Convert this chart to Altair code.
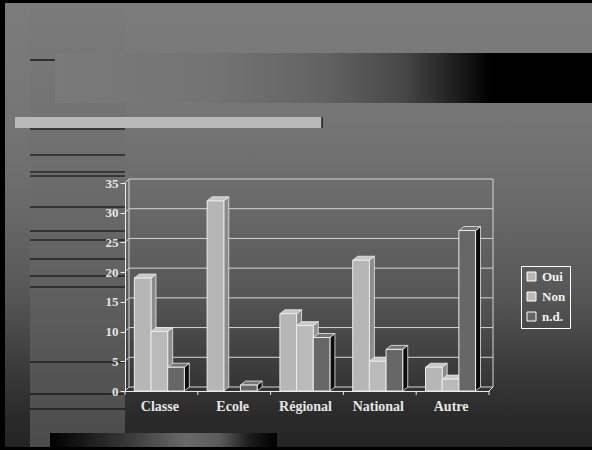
import json
import altair as alt
import pandas as pd

# ---------------- data ----------------
categories = ["Classe", "Ecole", "Régional", "National", "Autre"]
series = ["Oui", "Non", "n.d."]
oui = [19, 32, 13, 22, 4]
non = [10, 0, 11, 5, 2]
nd = [4, 1, 9, 7, 27]
y_ticks = [0, 5, 10, 15, 20, 25, 30, 35]

# ---------------- layout / style ----------------
PAGE_W, PAGE_H = 592, 450
PL, PT = 125, 183          # plot origin on the page
W, H = 364, 208            # front plot area
YMAX = 35
N = len(categories)
WALL = 4                   # wall depth in px
BAR_DX_PX, BAR_DY_PX = 5.0, 4.0
BAR_START, BAR_W = 0.128, 0.229   # in group units

front_colors = ["#b6b6b6", "#bababa", "#676767"]
top_colors = ["#c6c6c6", "#c9c9c9", "#747474"]
side_colors = ["#8c8c8c", "#909090", "#0c0c0c"]
GRID = "#d6d6d6"
EDGE = "#ececec"
TXT = "#e6e6e6"
FONT = "Liberation Serif"

# ---------------- tables built from the arrays ----------------
ux = N / W
uy = YMAX / H
dxb = BAR_DX_PX * ux
dyb = BAR_DY_PX * uy
rows_front, rows_top, rows_side = [], [], []
for i, c in enumerate(categories):
    for k, (s, vals) in enumerate(zip(series, [oui, non, nd])):
        v = vals[i]
        if v <= 0:
            continue
        x0 = i + BAR_START + k * BAR_W
        x1 = x0 + BAR_W
        bid = f"{c}|{s}"
        rows_front.append(dict(bar=bid, cat=c, series=s, x0=x0, x1=x1, v=v, zero=0))
        for x, lo, hi in [(x0, v, v), (x0 + dxb, v, v + dyb),
                          (x1, v, v + dyb), (x1 + dxb, v + dyb, v + dyb)]:
            rows_top.append(dict(bar=bid, series=s, x=x, lo=lo, hi=hi))
        for x, lo, hi in [(x1, 0, v), (x1 + dxb, dyb, v + dyb)]:
            rows_side.append(dict(bar=bid, series=s, x=x, lo=lo, hi=hi))

df_front = pd.DataFrame(rows_front)
df_top = pd.DataFrame(rows_top)
df_side = pd.DataFrame(rows_side)
df_ticks = pd.DataFrame({"t": y_ticks})
df_bounds = pd.DataFrame({"b": list(range(N + 1))})
one = pd.DataFrame({"k": [0]})

xscale = alt.Scale(domain=[0, N], nice=False, zero=False)
yscale = alt.Scale(domain=[0, YMAX], nice=False, zero=True)

label_expr = "%s[floor(datum.value)]" % json.dumps(categories, ensure_ascii=False)
xaxis = alt.Axis(values=[i + 0.5 for i in range(N)], labelExpr=label_expr, ticks=False,
                 grid=False, title=None, labelAngle=0, labelPadding=8, labelOffset=-2,
                 labelFlush=False, labelOverlap=False, domainColor=EDGE, domainWidth=1,
                 labelFont=FONT, labelFontWeight="bold", labelFontSize=14,
                 labelColor=TXT, zindex=1)
yaxis = alt.Axis(values=y_ticks, grid=False, title=None, tickSize=5, tickColor=EDGE,
                 domainColor=EDGE, labelPadding=2, labelFont=FONT, labelFontWeight="bold",
                 labelFontSize=13, labelColor=TXT, zindex=1, labelOverlap=False)


def page_rect(x0, y0, x1, y1, fill):
    return alt.Chart(one).mark_rect(color=fill).encode(
        x=alt.value(x0 - PL), x2=alt.value(x1 - PL),
        y=alt.value(y0 - PT), y2=alt.value(y1 - PT))


def page_rule(x0, y0, x1, y1, color="black", width=1.2):
    return alt.Chart(one).mark_rule(color=color, strokeWidth=width).encode(
        x=alt.value(x0 - PL), x2=alt.value(x1 - PL),
        y=alt.value(y0 - PT), y2=alt.value(y1 - PT))


def vgrad(stops):
    return alt.LinearGradient(gradient="linear", x1=0, y1=0, x2=0, y2=1,
                              stops=[alt.GradientStop(offset=o, color=c) for o, c in stops])


def hgrad(stops):
    return alt.LinearGradient(gradient="linear", x1=0, y1=0, x2=1, y2=0,
                              stops=[alt.GradientStop(offset=o, color=c) for o, c in stops])


layers = []
# slide background
layers.append(page_rect(0, 0, PAGE_W, PAGE_H, vgrad([
    (0, "#7c7c7c"), (0.25, "#767676"), (0.45, "#6a6a6a"), (0.65, "#575757"),
    (0.85, "#363636"), (0.92, "#2b2b2b"), (1, "#242424")])))
layers.append(page_rect(30, 3, 125, 447, vgrad([
    (0, "#7b7b7b"), (0.3, "#717171"), (0.6, "#626262"), (1, "#4b4b4b")])))
# top decorative gradient bar
layers.append(page_rect(55, 53, PAGE_W, 103, hgrad([
    (0, "#7a7a7a"), (0.3, "#737373"), (0.5, "#636363"), (0.65, "#474747"),
    (0.75, "#1c1c1c"), (0.81, "#000000"), (1, "#000000")])))
layers.append(page_rule(30, 60, 55, 60))
# light gray bar
layers.append(page_rect(15, 117, 322, 128, "#b9b9b9"))
layers.append(page_rule(322, 117, 322, 128))
# black lines on the left column
for ly in [129, 155, 172, 176, 207, 231, 240, 259, 276, 287, 362, 394, 409]:
    layers.append(page_rule(30, ly, 125, ly))
# bottom gradient bar
layers.append(page_rect(50, 433, 277, 447, hgrad([
    (0, "#000000"), (0.35, "#3a3a3a"), (0.6, "#6a6a6a"), (0.75, "#5a5a5a"),
    (0.88, "#1c1c1c"), (1, "#000000")])))
# border
layers.append(page_rect(0, 0, PAGE_W, 3, "#000000"))
layers.append(page_rect(0, 0, 5, PAGE_H, "#000000"))
layers.append(page_rect(0, 447, PAGE_W, PAGE_H, "#000000"))

# walls: back grid lines, left-wall diagonals, wall edges
layers.append(alt.Chart(df_ticks).mark_rule(color=GRID, strokeWidth=1, yOffset=-WALL).encode(
    y=alt.Y("t:Q", scale=yscale, axis=yaxis),
    x=alt.value(WALL), x2=alt.value(W + WALL)))
layers.append(alt.Chart(df_ticks).mark_rule(color=GRID, strokeWidth=1, y2Offset=-WALL).encode(
    y=alt.Y("t:Q", scale=yscale, axis=yaxis), y2="t:Q",
    x=alt.value(0), x2=alt.value(WALL)))
layers.append(alt.Chart(one).mark_rule(color=GRID, strokeWidth=1).encode(
    x=alt.value(WALL), x2=alt.value(WALL), y=alt.value(-WALL), y2=alt.value(H - WALL)))
layers.append(alt.Chart(one).mark_rule(color=GRID, strokeWidth=1).encode(
    x=alt.value(W + WALL), x2=alt.value(W + WALL), y=alt.value(-WALL), y2=alt.value(H - WALL)))
layers.append(alt.Chart(one).mark_rule(color=EDGE, strokeWidth=1).encode(
    x=alt.value(W), x2=alt.value(W + WALL), y=alt.value(H), y2=alt.value(H - WALL)))
# category ticks below the floor
layers.append(alt.Chart(df_bounds).mark_rule(color=EDGE, strokeWidth=1).encode(
    x=alt.X("b:Q", scale=xscale, axis=xaxis), y=alt.value(H), y2=alt.value(H + 4)))

# 3D bars: side faces, top caps, front faces
layers.append(alt.Chart(df_side).mark_area(orient="vertical", stroke=EDGE, strokeWidth=0.8,
                                          opacity=1, fillOpacity=1).encode(
    x=alt.X("x:Q", scale=xscale, axis=xaxis),
    y=alt.Y("lo:Q", scale=yscale, axis=yaxis), y2="hi:Q",
    detail="bar:N",
    fill=alt.Fill("series:N", scale=alt.Scale(domain=series, range=side_colors), legend=None)))
layers.append(alt.Chart(df_top).mark_area(orient="vertical", stroke=EDGE, strokeWidth=0.8,
                                         opacity=1, fillOpacity=1).encode(
    x=alt.X("x:Q", scale=xscale, axis=xaxis),
    y=alt.Y("lo:Q", scale=yscale, axis=yaxis), y2="hi:Q",
    detail="bar:N",
    fill=alt.Fill("series:N", scale=alt.Scale(domain=series, range=top_colors), legend=None)))
layers.append(alt.Chart(df_front).mark_rect(stroke=EDGE, strokeWidth=1).encode(
    x=alt.X("x0:Q", scale=xscale, axis=xaxis), x2="x1:Q",
    y=alt.Y("v:Q", scale=yscale, axis=yaxis), y2="zero:Q",
    color=alt.Color("series:N", scale=alt.Scale(domain=series, range=front_colors),
                    legend=alt.Legend(title=None, orient="none", legendX=396, legendY=83,
                                      strokeColor="white", padding=4, symbolType="square",
                                      symbolSize=81, symbolStrokeColor="white",
                                      symbolStrokeWidth=1, symbolOpacity=1, rowPadding=6,
                                      labelOffset=4, labelFont=FONT, labelFontWeight="bold",
                                      labelFontSize=13, labelColor="#f2f2f2"))))

chart = alt.layer(*layers).resolve_scale(fill="independent").properties(
    width=W, height=H,
    padding={"left": PL, "top": PT, "right": PAGE_W - PL - W, "bottom": PAGE_H - PT - H},
    autosize=alt.AutoSizeParams(type="none"),
    background="#7c7c7c",
).configure_view(stroke=None)

chart.save("out.html", embed_options={"renderer": "svg", "actions": False})
